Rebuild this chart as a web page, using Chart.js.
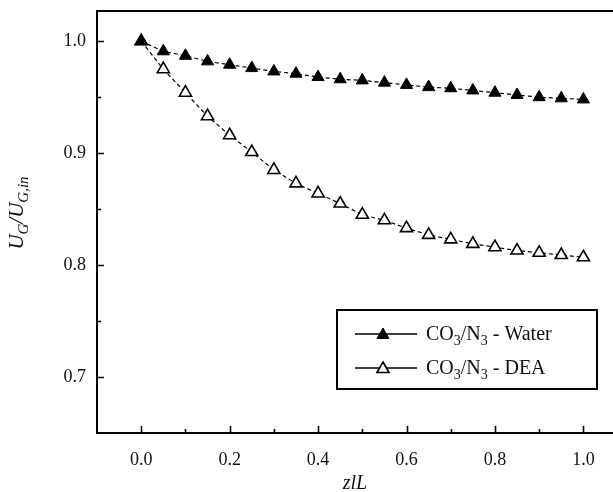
<!DOCTYPE html>
<html>
<head>
<meta charset="utf-8">
<script src="https://cdn.jsdelivr.net/npm/chart.js@4.4.1/dist/chart.umd.min.js"></script>
<style>
  html, body { margin: 0; padding: 0; background: #fff; overflow: hidden; }
</style>
</head>
<body>
<canvas id="myChart" width="613" height="492"></canvas>
<script>
// z/L positions
const posiciones = [0, 0.05, 0.1, 0.15, 0.2, 0.25, 0.3, 0.35, 0.4, 0.45, 0.5,
    0.55, 0.6, 0.65, 0.7, 0.75, 0.8, 0.85, 0.9, 0.95, 1.0]

const valoresWater = [1.000, 0.991, 0.987, 0.982, 0.979, 0.976, 0.973, 0.971, 0.968, 0.966, 0.965,
    0.963, 0.961, 0.959, 0.958, 0.956, 0.954, 0.952, 0.950, 0.949, 0.948]

const valoresDEA = [1.000, 0.975, 0.954, 0.933, 0.916, 0.901, 0.885, 0.873, 0.864, 0.855, 0.845,
    0.840, 0.833, 0.827, 0.823, 0.819, 0.816, 0.813, 0.811, 0.809, 0.807]

const etiquetas = ['CO₃/N₃ - Water', 'CO₃/N₃ - DEA']

const ticksX = [0.0, 0.2, 0.4, 0.6, 0.8, 1.0]
const etiquetasX = ['0.0', '0.2', '0.4', '0.6', '0.8', '1.0']
const menoresX = [0.1, 0.3, 0.5, 0.7, 0.9]

const ticksY = [0.7, 0.8, 0.9, 1.0]
const etiquetasY = ['0.7', '0.8', '0.9', '1.0']
const menoresY = [0.75, 0.85, 0.95]

const fuente = '"Liberation Serif", "Times New Roman", serif'

function puntos(valores) {
    return posiciones.map((x, i) => ({ x: x, y: valores[i] }))
}

function sinPadding(scale) {
    scale.paddingLeft = 0
    scale.paddingRight = 0
    scale.paddingTop = 0
    scale.paddingBottom = 0
}

// frame top line, inward ticks, y title and legend box
const marcoPlugin = {
    id: 'marco',
    afterDraw(chart) {
        const ctx = chart.ctx
        const area = chart.chartArea
        const sx = chart.scales.x
        const sy = chart.scales.y

        ctx.save()
        ctx.strokeStyle = '#000'
        ctx.lineWidth = 2
        ctx.beginPath()
        ctx.moveTo(area.left - 1, area.top)
        ctx.lineTo(area.right, area.top)
        ctx.stroke()

        ctx.lineWidth = 1.6
        ctx.beginPath()
        for (const v of ticksX) {
            const px = Math.round(sx.getPixelForValue(v)) + 0.5
            ctx.moveTo(px, area.bottom); ctx.lineTo(px, area.bottom - 7)
        }
        for (const v of menoresX) {
            const px = Math.round(sx.getPixelForValue(v)) + 0.5
            ctx.moveTo(px, area.bottom); ctx.lineTo(px, area.bottom - 4)
        }
        for (const v of ticksY) {
            const py = Math.round(sy.getPixelForValue(v)) + 0.5
            ctx.moveTo(area.left, py); ctx.lineTo(area.left + 7, py)
        }
        for (const v of menoresY) {
            const py = Math.round(sy.getPixelForValue(v)) + 0.5
            ctx.moveTo(area.left, py); ctx.lineTo(area.left + 4, py)
        }
        ctx.stroke()

        // y title  U_G / U_G,in
        const partes = [
            { t: 'U', sub: false }, { t: 'G', sub: true },
            { t: '/U', sub: false }, { t: 'G,in', sub: true }
        ]
        const fMain = 'italic 21px ' + fuente
        const fSub = 'italic 15px ' + fuente
        let ancho = 0
        for (const p of partes) {
            ctx.font = p.sub ? fSub : fMain
            ancho += ctx.measureText(p.t).width
        }
        ctx.translate(16, 213)
        ctx.rotate(-Math.PI / 2)
        ctx.fillStyle = '#111'
        ctx.textBaseline = 'alphabetic'
        let cx = -ancho / 2
        for (const p of partes) {
            ctx.font = p.sub ? fSub : fMain
            ctx.fillText(p.t, cx, p.sub ? 11.5 : 7)
            cx += ctx.measureText(p.t).width
        }
        ctx.restore()

        // legend
        ctx.save()
        ctx.strokeStyle = '#000'
        ctx.lineWidth = 2
        ctx.strokeRect(337, 310, 260, 79)
        const filas = [333, 367]
        chart.data.datasets.forEach((ds, i) => {
            const y = filas[i]
            ctx.lineWidth = 1.5
            ctx.strokeStyle = '#000'
            ctx.beginPath()
            ctx.moveTo(355, y + 1); ctx.lineTo(417, y + 1)
            ctx.stroke()
            ctx.fillStyle = ds.pointBackgroundColor
            ctx.strokeStyle = ds.pointBorderColor
            ctx.lineWidth = ds.pointBorderWidth
            Chart.helpers.drawPoint(ctx, {
                pointStyle: 'triangle', radius: 7, rotation: 0,
                borderWidth: ds.pointBorderWidth
            }, 383, y + 2)

            ctx.fillStyle = '#111'
            ctx.textBaseline = 'alphabetic'
            const trozos = ds.label.split('₃')
            let tx = 426
            trozos.forEach((tr, k) => {
                ctx.font = '20px ' + fuente
                ctx.fillText(tr, tx, y + 7)
                tx += ctx.measureText(tr).width
                if (k < trozos.length - 1) {
                    ctx.font = '14px ' + fuente
                    ctx.fillText('3', tx, y + 12)
                    tx += ctx.measureText('3').width
                }
            })
        })
        ctx.restore()
    }
}

function chartConfig() {
    const comun = {
        showLine: true,
        borderColor: '#000',
        borderWidth: 1.2,
        borderDash: [4, 3],
        pointStyle: 'triangle',
        pointRadius: 7,
        pointHoverRadius: 7,
        pointBorderColor: '#000',
        tension: 0
    }
    return {
        type: 'scatter',
        data: {
            datasets: [
                Object.assign({}, comun, {
                    label: etiquetas[0],
                    data: puntos(valoresWater),
                    backgroundColor: '#000',
                    pointBackgroundColor: '#000',
                    pointBorderWidth: 1
                }),
                Object.assign({}, comun, {
                    label: etiquetas[1],
                    data: puntos(valoresDEA),
                    backgroundColor: '#fff',
                    pointBackgroundColor: '#fff',
                    pointBorderWidth: 1.6
                })
            ]
        },
        options: {
            responsive: false,
            devicePixelRatio: 1,
            animation: false,
            layout: { autoPadding: false, padding: { left: 0, top: 11, right: 0, bottom: 0 } },
            plugins: {
                legend: { display: false },
                tooltip: { enabled: false }
            },
            scales: {
                x: {
                    type: 'linear',
                    min: -0.1,
                    max: 1.067,
                    afterBuildTicks: (scale) => { scale.ticks = ticksX.map(v => ({ value: v })) },
                    afterFit: (scale) => { scale.height = 59; sinPadding(scale) },
                    grid: { display: false },
                    border: { display: true, color: '#000', width: 2 },
                    ticks: {
                        autoSkip: false,
                        maxRotation: 0,
                        padding: 8,
                        color: '#111',
                        font: { family: fuente, size: 18 },
                        callback: (v) => etiquetasX[ticksX.findIndex(t => Math.abs(t - v) < 1e-6)]
                    },
                    title: {
                        display: true,
                        text: 'zlL',
                        color: '#111',
                        padding: { top: 0, bottom: -4 },
                        font: { family: fuente, size: 20, style: 'italic' }
                    }
                },
                y: {
                    type: 'linear',
                    min: 0.65,
                    max: 1.027,
                    afterBuildTicks: (scale) => { scale.ticks = ticksY.map(v => ({ value: v })) },
                    afterFit: (scale) => { scale.width = 97; sinPadding(scale) },
                    grid: { display: false },
                    border: { display: true, color: '#000', width: 2 },
                    ticks: {
                        padding: 3,
                        color: '#111',
                        font: { family: fuente, size: 18 },
                        callback: (v) => etiquetasY[ticksY.findIndex(t => Math.abs(t - v) < 1e-6)]
                    }
                }
            }
        },
        plugins: [marcoPlugin]
    }
}

const chartDOM = document.getElementById('myChart')
new Chart(chartDOM, chartConfig())
</script>
</body>
</html>
